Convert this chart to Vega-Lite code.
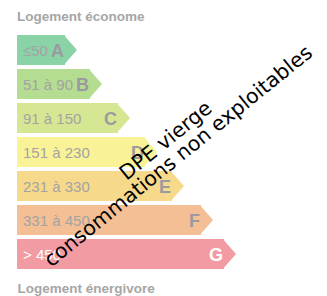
{
  "$schema": "https://vega.github.io/schema/vega-lite/v6.json",
  "autosize": "none",
  "width": 310,
  "height": 234,
  "padding": {"left": 17, "top": 35, "right": 0, "bottom": 27},
  "background": "white",
  "title": {"text": "Logement économe", "anchor": "start", "frame": "group", "font": "Liberation Sans", "fontSize": 13.5, "fontWeight": "bold", "color": "#a6a6a6", "baseline": "alphabetic", "offset": -7},
  "data": {"values": [
    {"classe": "A", "plage": "≤50", "longueur": 48},
    {"classe": "B", "plage": "51 à 90", "longueur": 73},
    {"classe": "C", "plage": "91 à 150", "longueur": 101},
    {"classe": "D", "plage": "151 à 230", "longueur": 128},
    {"classe": "E", "plage": "231 à 330", "longueur": 155},
    {"classe": "F", "plage": "331 à 450", "longueur": 184},
    {"classe": "G", "plage": "> 450", "longueur": 207}
  ]},
  "encoding": {
    "y": {"field": "classe", "type": "nominal", "sort": ["A","B","C","D","E","F","G"], "axis": null,
          "scale": {"paddingInner": 0.1176, "paddingOuter": 0}}
  },
  "layer": [
    {
      "mark": {"type": "bar", "opacity": 1},
      "encoding": {
        "x": {"field": "longueur", "type": "quantitative", "scale": {"domain": [0, 310], "nice": false}, "title": "Logement énergivore"},
        "color": {"field": "classe", "type": "nominal", "legend": null,
                  "scale": {"domain": ["A","B","C","D","E","F","G"], "range": ["#89d3a6","#b4dd91","#d6e793","#f9f296","#f7d98c","#f4bf94","#f29ba2"]}}
      }
    },
    {
      "mark": {"type": "point", "filled": true, "opacity": 1, "size": 900, "shape": "M-0.08,-1L0.8,0L-0.08,1Z", "strokeWidth": 0},
      "encoding": {
        "x": {"field": "longueur", "type": "quantitative", "title": "Logement énergivore"},
        "color": {"field": "classe", "type": "nominal", "legend": null}
      }
    },
    {
      "mark": {"type": "text", "align": "left", "baseline": "alphabetic", "dx": 6, "dy": 6, "font": "Liberation Sans", "fontSize": 15},
      "encoding": {
        "x": {"datum": 0, "type": "quantitative", "title": "Logement énergivore"},
        "text": {"field": "plage"},
        "color": {"condition": {"test": "datum.classe === 'G'", "value": "#ffffff"}, "value": "#a3a3a3"}
      }
    },
    {
      "mark": {"type": "text", "align": "right", "baseline": "alphabetic", "dx": -1, "dy": 7, "font": "Liberation Sans", "fontSize": 18, "fontWeight": "bold"},
      "encoding": {
        "x": {"field": "longueur", "type": "quantitative", "title": "Logement énergivore"},
        "text": {"field": "classe"},
        "color": {"condition": {"test": "datum.classe === 'G'", "value": "#ffffff"}, "value": "#9a9aa0"}
      }
    },
    {
      "data": {"values": [{"note": "DPE vierge\nconsommations non exploitables"}]},
      "mark": {"type": "text", "align": "center", "baseline": "middle", "angle": -39, "lineBreak": "\n", "lineHeight": 20, "font": "DejaVu Sans", "fontSize": 20.5, "color": "#000000", "dy": -14},
      "encoding": {
        "x": {"datum": 158, "type": "quantitative", "title": "Logement énergivore"},
        "y": {"datum": "D"},
        "text": {"field": "note"}
      }
    }
  ],
  "config": {
    "view": {"stroke": null},
    "axisX": {"labels": false, "ticks": false, "domain": false, "grid": false, "titleAnchor": "start", "titleAlign": "left", "titleFont": "Liberation Sans", "titleFontSize": 13.5, "titleFontWeight": "bold", "titleColor": "#a6a6a6", "titleBaseline": "alphabetic", "titlePadding": 23}
  }
}
